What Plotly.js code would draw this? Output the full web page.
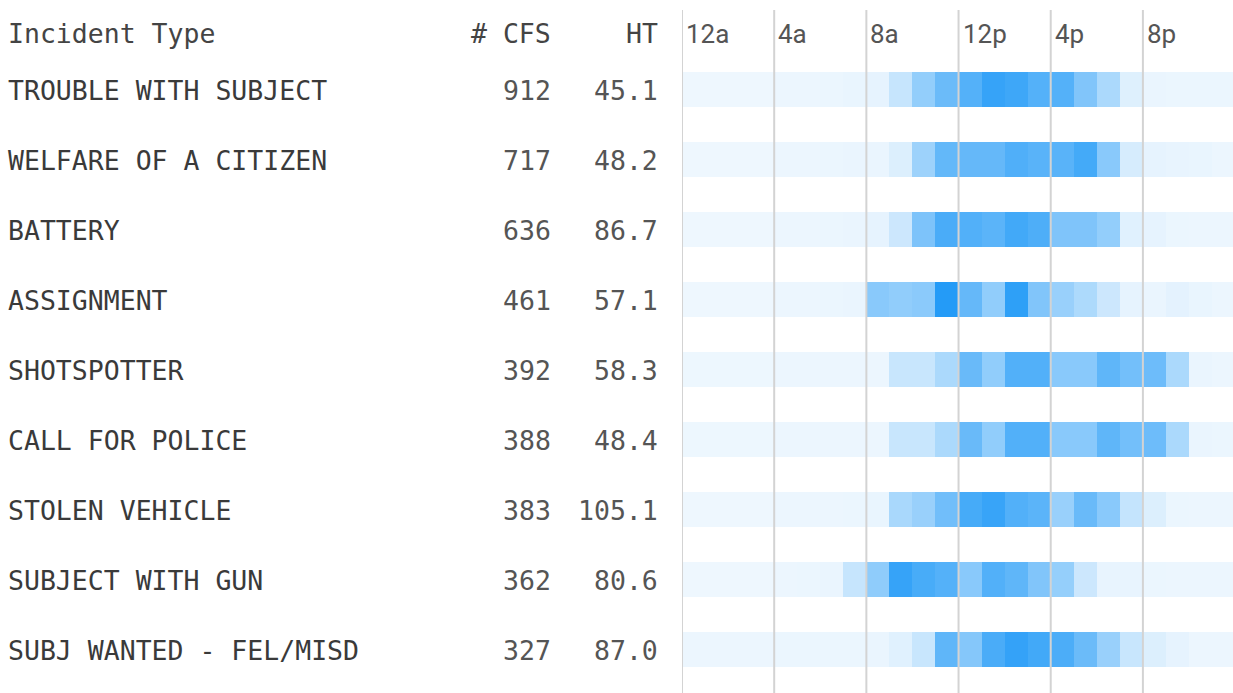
<!DOCTYPE html>
<html>
<head>
<meta charset="utf-8">
<script src="https://cdn.plot.ly/plotly-3.0.1.min.js"></script>
<style>html,body{margin:0;padding:0;background:#fff;}#chart{width:1233px;height:693px;}</style>
</head>
<body>
<div id="chart"></div>
<script>
// ---- data ----
const incidentTypes = ["TROUBLE WITH SUBJECT","WELFARE OF A CITIZEN","BATTERY","ASSIGNMENT","SHOTSPOTTER","CALL FOR POLICE","STOLEN VEHICLE","SUBJECT WITH GUN","SUBJ WANTED - FEL/MISD"];
const cfsCounts = [912, 717, 636, 461, 392, 388, 383, 362, 327];
const htValues = ["45.1","48.2","86.7","57.1","58.3","48.4","105.1","80.6","87.0"];
const hourTickVals = [0, 4, 8, 12, 16, 20];
const hourTickLabels = ["12a","4a","8a","12p","4p","8p"];
const hours = [0,1,2,3,4,5,6,7,8,9,10,11,12,13,14,15,16,17,18,19,20,21,22,23];

// relative hourly intensity (0-100) per incident type
const troubleWithSubject = [0,0,0,0,1,1,1.5,2.5,4,20,45,65,76,91,87,76,76,54,33,8,2,1.5,1.5,1.5];
const welfareOfCitizen   = [0,0,0,0,1,1,1.5,2,2,9,40,69,68,68,78,74,74,84,50,12,4,3,2.5,1];
const battery            = [0,0,0,0,1,1,1.5,2,4,17,56,81,77,73,85,79,55,55,45,7,4,1.5,1,1];
const assignment         = [0,0,0,0,1,1,1.5,2,50,46,49,100,68,46,95,54,42,32,17,4,2,5,2.5,1];
const shotspotter        = [0.5,0.5,0.5,0.5,1,1,1,1,1,19,19,33,66,46,77,77,50,50,71,61,64,33,2,1];
const callForPolice      = [0.5,0.5,0.5,0.5,1,1,1,1,1,19,19,33,66,46,77,77,50,50,71,61,64,33,2,1.5];
const stolenVehicle      = [0,0,0,0,1,1,1,1.5,2.5,34,42,62,83,90,77,73,42,66,50,21,9,1.5,0.8,0.8];
const subjectWithGun     = [0,0,0,0,1,1.5,2,20,47,91,82,76,50,77,71,54,44,17,3,3,1.5,1,0.8,0.8];
const subjWanted         = [1,1,1,1,1.5,1.5,1.5,1.5,2,7,19,71,52,81,92,85,80,65,42,19,9,4,1,1];

const zRows = [troubleWithSubject, welfareOfCitizen, battery, assignment, shotspotter, callForPolice, stolenVehicle, subjectWithGun, subjWanted];
const rowIdx = incidentTypes.map((_, i) => i);

// ---- layout helpers ----
const W = 1233, H = 693;
const px = v => v / W;
const py = v => (H - v) / H;

const trace = {
  type: 'heatmap',
  z: zRows,
  x: hours,
  y: rowIdx,
  zmin: 0, zmax: 100,
  colorscale: [[0, '#eef7fe'], [1, '#249bf7']],
  showscale: false,
  xgap: 0,
  ygap: 35,
  hoverinfo: 'skip'
};

const monoFont = 'DejaVu Sans Mono, Liberation Mono, monospace';
const fs = 26.5;
const annotations = [];
// header
annotations.push({xref:'paper', yref:'paper', x:px(6), y:py(34), xanchor:'left', yanchor:'middle', text:'Incident Type', showarrow:false, font:{family:monoFont, size:fs, color:'#444'}});
annotations.push({xref:'paper', yref:'paper', x:px(553), y:py(34), xanchor:'right', yanchor:'middle', text:'# CFS', showarrow:false, font:{family:monoFont, size:fs, color:'#444'}});
annotations.push({xref:'paper', yref:'paper', x:px(660), y:py(34), xanchor:'right', yanchor:'middle', text:'HT', showarrow:false, font:{family:monoFont, size:fs, color:'#444'}});
hourTickVals.forEach((h, i) => {
  annotations.push({xref:'x', yref:'paper', x:h - 0.5, y:py(34), xanchor:'left', yanchor:'middle', xshift:2, text:hourTickLabels[i], showarrow:false, font:{family:'Roboto, sans-serif', size:26, color:'#555'}});
});
incidentTypes.forEach((name, i) => {
  annotations.push({xref:'paper', yref:'y', x:px(6), y:i, xanchor:'left', yanchor:'middle', text:name, showarrow:false, font:{family:monoFont, size:fs, color:'#3a3a3a'}});
  annotations.push({xref:'paper', yref:'y', x:px(553), y:i, xanchor:'right', yanchor:'middle', text:String(cfsCounts[i]), showarrow:false, font:{family:monoFont, size:fs, color:'#555'}});
  annotations.push({xref:'paper', yref:'y', x:px(660), y:i, xanchor:'right', yanchor:'middle', text:htValues[i], showarrow:false, font:{family:monoFont, size:fs, color:'#555'}});
});

const shapes = hourTickVals.map(h => ({
  type:'line', xref:'x', yref:'paper', x0:h - 0.5, x1:h - 0.5, y0:0, y1:py(10),
  line:{color:'#d3d3d3', width:2}, layer:'above'
}));

const layout = {
  width: W, height: H,
  margin: {l:0, r:0, t:0, b:0},
  paper_bgcolor: '#fff', plot_bgcolor: '#fff',
  xaxis: {domain:[px(682), 1], range:[-0.5, 23.41], visible:false, fixedrange:true},
  yaxis: {domain:[py(685), py(55)], range:[8.5, -0.5], visible:false, fixedrange:true},
  annotations: annotations,
  shapes: shapes,
  showlegend: false
};

Plotly.newPlot('chart', [trace], layout, {displayModeBar:false, staticPlot:true});
</script>
</body>
</html>
